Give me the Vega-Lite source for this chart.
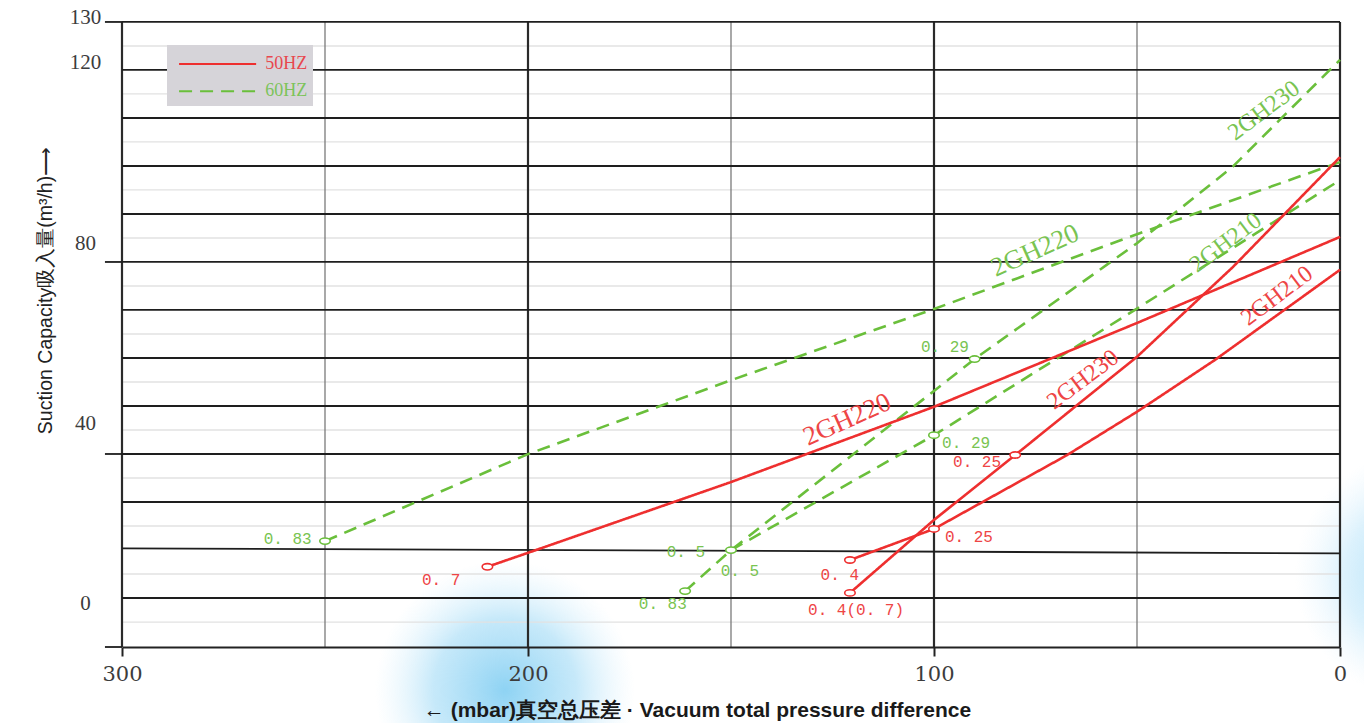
{
  "$schema": "https://vega.github.io/schema/vega-lite/v6.json",
  "width": 1218,
  "height": 630,
  "autosize": {"type": "none"},
  "padding": {"left": 122, "top": 17, "right": 24, "bottom": 76},
  "background": "#ffffff",
  "config": {"view": {"stroke": null}},
  "datasets": {
    "curves": [
      {"model": "2GH220", "freq": "60HZ", "x": 250, "y": 13.9},
      {"model": "2GH220", "freq": "60HZ", "x": 200, "y": 33.2},
      {"model": "2GH220", "freq": "60HZ", "x": 150, "y": 49.6},
      {"model": "2GH220", "freq": "60HZ", "x": 100, "y": 65.4},
      {"model": "2GH220", "freq": "60HZ", "x": 50, "y": 82.0},
      {"model": "2GH220", "freq": "60HZ", "x": 0, "y": 98.0},
      {"model": "2GH230", "freq": "60HZ", "x": 161.3, "y": 2.8},
      {"model": "2GH230", "freq": "60HZ", "x": 150, "y": 11.9},
      {"model": "2GH230", "freq": "60HZ", "x": 90, "y": 54.3},
      {"model": "2GH230", "freq": "60HZ", "x": 50, "y": 80.0},
      {"model": "2GH230", "freq": "60HZ", "x": 26.4, "y": 97.0},
      {"model": "2GH230", "freq": "60HZ", "x": 0, "y": 120.7},
      {"model": "2GH210", "freq": "60HZ", "x": 150, "y": 11.9},
      {"model": "2GH210", "freq": "60HZ", "x": 100, "y": 37.4},
      {"model": "2GH210", "freq": "60HZ", "x": 50, "y": 65.5},
      {"model": "2GH210", "freq": "60HZ", "x": 0, "y": 94.0},
      {"model": "2GH220", "freq": "50HZ", "x": 210, "y": 8.2},
      {"model": "2GH220", "freq": "50HZ", "x": 200, "y": 11.3},
      {"model": "2GH220", "freq": "50HZ", "x": 150, "y": 27.0},
      {"model": "2GH220", "freq": "50HZ", "x": 100, "y": 43.7},
      {"model": "2GH220", "freq": "50HZ", "x": 50, "y": 62.3},
      {"model": "2GH220", "freq": "50HZ", "x": 0, "y": 81.4},
      {"model": "2GH230", "freq": "50HZ", "x": 120.7, "y": 2.4},
      {"model": "2GH230", "freq": "50HZ", "x": 100, "y": 18.6},
      {"model": "2GH230", "freq": "50HZ", "x": 80, "y": 33.0},
      {"model": "2GH230", "freq": "50HZ", "x": 50, "y": 54.8},
      {"model": "2GH230", "freq": "50HZ", "x": 26.4, "y": 74.7},
      {"model": "2GH230", "freq": "50HZ", "x": 0, "y": 99.1},
      {"model": "2GH210", "freq": "50HZ", "x": 120.7, "y": 9.7},
      {"model": "2GH210", "freq": "50HZ", "x": 100, "y": 16.6},
      {"model": "2GH210", "freq": "50HZ", "x": 67.2, "y": 33.0},
      {"model": "2GH210", "freq": "50HZ", "x": 50, "y": 42.6},
      {"model": "2GH210", "freq": "50HZ", "x": 30.8, "y": 54.1},
      {"model": "2GH210", "freq": "50HZ", "x": 0, "y": 74.1}
    ],
    "markers": [
      {"freq": "60HZ", "x": 250, "y": 13.9},
      {"freq": "60HZ", "x": 161.3, "y": 2.8},
      {"freq": "60HZ", "x": 150, "y": 11.9},
      {"freq": "60HZ", "x": 90, "y": 54.3},
      {"freq": "60HZ", "x": 100, "y": 37.4},
      {"freq": "50HZ", "x": 210, "y": 8.2},
      {"freq": "50HZ", "x": 120.7, "y": 2.4},
      {"freq": "50HZ", "x": 120.7, "y": 9.7},
      {"freq": "50HZ", "x": 100, "y": 16.6},
      {"freq": "50HZ", "x": 80, "y": 33.0}
    ],
    "pointLabels": [
      {"freq": "60HZ", "text": "0. 83", "x": 259.2, "y": 14.4},
      {"freq": "60HZ", "text": "0. 83", "x": 166.8, "y": -0.1},
      {"freq": "60HZ", "text": "0. 5", "x": 161.1, "y": 11.5},
      {"freq": "60HZ", "text": "0. 5", "x": 147.8, "y": 7.3},
      {"freq": "60HZ", "text": "0. 29", "x": 97.3, "y": 57.0},
      {"freq": "60HZ", "text": "0. 29", "x": 92.1, "y": 35.7},
      {"freq": "50HZ", "text": "0. 7", "x": 221.4, "y": 5.3},
      {"freq": "50HZ", "text": "0. 4", "x": 123.2, "y": 6.4},
      {"freq": "50HZ", "text": "0. 4(0. 7)", "x": 119.2, "y": -1.4},
      {"freq": "50HZ", "text": "0. 25", "x": 91.4, "y": 14.8},
      {"freq": "50HZ", "text": "0. 25", "x": 89.4, "y": 31.5}
    ],
    "modelLabels": [
      {"freq": "50HZ", "model": "2GH220", "x": 121.4, "y": 40.8},
      {"freq": "50HZ", "model": "2GH230", "x": 63.3, "y": 49.7},
      {"freq": "50HZ", "model": "2GH210", "x": 15.5, "y": 68.3},
      {"freq": "60HZ", "model": "2GH220", "x": 75.1, "y": 78.3},
      {"freq": "60HZ", "model": "2GH210", "x": 28.1, "y": 80.1},
      {"freq": "60HZ", "model": "2GH230", "x": 18.7, "y": 109.4}
    ],
    "hMajor": [
      {"y": 129.1, "yEnd": 129.1},
      {"y": 118.45, "yEnd": 118.45},
      {"y": 107.79, "yEnd": 107.79},
      {"y": 97.14, "yEnd": 97.14},
      {"y": 86.49, "yEnd": 86.49},
      {"y": 75.84, "yEnd": 75.84},
      {"y": 65.19, "yEnd": 65.19},
      {"y": 54.53, "yEnd": 54.53},
      {"y": 43.88, "yEnd": 43.88},
      {"y": 33.23, "yEnd": 33.23},
      {"y": 22.58, "yEnd": 22.58},
      {"y": 12.29, "yEnd": 11.19},
      {"y": 1.27, "yEnd": 1.27}
    ],
    "hMinor": [
      {"y": 123.77}, {"y": 113.12}, {"y": 102.47}, {"y": 91.82}, {"y": 81.16},
      {"y": 70.51}, {"y": 59.86}, {"y": 49.21}, {"y": 38.55}, {"y": 27.9},
      {"y": 17.25}, {"y": 6.6}, {"y": -4.06}
    ],
    "vMajor": [{"x": 300}, {"x": 200}, {"x": 100}, {"x": 0}],
    "vMinor": [{"x": 250}, {"x": 150}, {"x": 50}],
    "yTicks": [{"y": 129.1}, {"y": 75.84}, {"y": 33.23}, {"y": -9.6}]
  },
  "layer": [
    {
      "data": {"values": [{}]},
      "mark": {"type": "point", "shape": "circle", "size": 67600, "filled": true, "opacity": 1, "strokeWidth": 0,
        "fill": {"gradient": "radial", "stops": [
          {"offset": 0, "color": "rgba(130,206,242,0.9)"},
          {"offset": 0.55, "color": "rgba(160,218,246,0.6)"},
          {"offset": 1, "color": "rgba(210,238,252,0)"}]}},
      "encoding": {
        "x": {"datum": 205.7, "type": "quantitative", "scale": {"domain": [0, 300], "reverse": true, "nice": false, "zero": false}},
        "y": {"datum": -19.2, "type": "quantitative", "scale": {"domain": [-9.6, 130.2], "nice": false, "zero": false}}
      }
    },
    {
      "data": {"values": [{}]},
      "mark": {"type": "point", "shape": "circle", "size": 62500, "filled": true, "opacity": 1, "strokeWidth": 0,
        "fill": {"gradient": "radial", "stops": [
          {"offset": 0, "color": "rgba(150,214,245,0.9)"},
          {"offset": 0.6, "color": "rgba(185,228,250,0.5)"},
          {"offset": 1, "color": "rgba(220,240,252,0)"}]}},
      "encoding": {
        "x": {"datum": -19.7, "type": "quantitative", "scale": {"domain": [0, 300], "reverse": true, "nice": false, "zero": false}},
        "y": {"datum": 6.4, "type": "quantitative", "scale": {"domain": [-9.6, 130.2], "nice": false, "zero": false}}
      }
    },
    {
      "data": {"name": "hMinor"},
      "mark": {"type": "rule", "color": "#e2e2e2", "strokeWidth": 1.3},
      "encoding": {
        "y": {"field": "y", "type": "quantitative", "scale": {"domain": [-9.6, 130.2], "nice": false, "zero": false}}
      }
    },
    {
      "data": {"name": "vMinor"},
      "mark": {"type": "rule", "color": "#7a7a7a", "strokeWidth": 1.3},
      "encoding": {
        "x": {"field": "x", "type": "quantitative", "scale": {"domain": [0, 300], "reverse": true, "nice": false, "zero": false}},
        "y": {"datum": 129.1, "type": "quantitative", "scale": {"domain": [-9.6, 130.2], "nice": false, "zero": false}},
        "y2": {"datum": -9.6}
      }
    },
    {
      "data": {"name": "vMajor"},
      "mark": {"type": "rule", "color": "#2a2a2a", "strokeWidth": 2.2},
      "encoding": {
        "x": {"field": "x", "type": "quantitative", "scale": {"domain": [0, 300], "reverse": true, "nice": false, "zero": false}},
        "y": {"datum": 129.1, "type": "quantitative", "scale": {"domain": [-9.6, 130.2], "nice": false, "zero": false}},
        "y2": {"datum": -9.6}
      }
    },
    {
      "data": {"name": "hMajor"},
      "mark": {"type": "rule", "color": "#1e1e1e", "strokeWidth": 1.8},
      "encoding": {
        "x": {"datum": 300, "type": "quantitative", "scale": {"domain": [0, 300], "reverse": true, "nice": false, "zero": false}},
        "x2": {"datum": 0},
        "y": {"field": "y", "type": "quantitative", "scale": {"domain": [-9.6, 130.2], "nice": false, "zero": false}},
        "y2": {"field": "yEnd"}
      }
    },
    {
      "data": {"name": "yTicks"},
      "mark": {"type": "rule", "color": "#1e1e1e", "strokeWidth": 1.8},
      "encoding": {
        "x": {"datum": 304.2, "type": "quantitative", "scale": {"domain": [0, 300], "reverse": true, "nice": false, "zero": false}},
        "x2": {"datum": 300},
        "y": {"field": "y", "type": "quantitative", "scale": {"domain": [-9.6, 130.2], "nice": false, "zero": false}}
      }
    },
    {
      "data": {"name": "curves"},
      "mark": {"type": "line", "strokeWidth": 2.6},
      "encoding": {
        "x": {"field": "x", "type": "quantitative", "scale": {"domain": [0, 300], "reverse": true, "nice": false, "zero": false},
          "axis": {"title": "← (mbar)真空总压差 · Vacuum total pressure difference", "values": [300, 200, 100, 0], "grid": false, "zindex": 1,
            "domain": true, "domainColor": "#222222", "domainWidth": 2, "ticks": true, "tickSize": 9, "tickWidth": 2, "tickColor": "#222222",
            "labelFont": "DejaVu Serif", "labelFontSize": 21, "labelColor": "#3c3c3c", "labelPadding": 7, "labelFlush": false, "labelOverlap": false,
            "titleFont": "Liberation Sans", "titleFontSize": 21, "titleFontWeight": "bold", "titleColor": "#1a1a1a",
            "titleX": 575, "titleY": 63, "titleAlign": "center", "titleBaseline": "middle"}},
        "y": {"field": "y", "type": "quantitative", "scale": {"domain": [-9.6, 130.2], "nice": false, "zero": false},
          "axis": {"title": "Suction Capacity吸入量(m³/h)⟶", "values": [0, 40, 80, 120, 130], "grid": false, "zindex": 1,
            "domain": false, "ticks": false, "tickSize": 0,
            "labelFont": "Liberation Serif", "labelFontSize": 21, "labelColor": "#3c3c3c", "labelPadding": 37, "labelAlign": "center", "labelBaseline": "middle",
            "labelFlush": false, "labelOverlap": false,
            "titleFont": "Liberation Sans", "titleFontSize": 19.5, "titleFontWeight": "normal", "titleColor": "#222222",
            "titleAngle": -90, "titleX": -77, "titleY": 273, "titleAlign": "center", "titleBaseline": "middle"}},
        "detail": [{"field": "model"}, {"field": "freq"}],
        "color": {"field": "freq", "type": "nominal", "scale": {"domain": ["50HZ", "60HZ"], "range": ["#ee2f2f", "#6abf3b"]},
          "legend": {"title": null, "orient": "none", "legendX": 45, "legendY": 28, "fillColor": "#d6d4d9", "padding": 5,
            "symbolType": "M-3,0H3", "symbolSize": 660, "symbolStrokeWidth": 2, "symbolOffset": 31.6,
            "labelFont": "Liberation Serif", "labelFontSize": 18, "labelOffset": 33.6, "rowPadding": 4.3,
            "encode": {"labels": {"update": {
              "text": {"signal": "datum.label + '\u00a0\u00a0\u00a0\u00a0'"},
              "fill": {"signal": "datum.label == '50HZ' ? '#e8474e' : '#7cc35a'"}}}}}},
        "strokeDash": {"field": "freq", "type": "nominal", "scale": {"domain": ["50HZ", "60HZ"], "range": [[1, 0], [13, 8]]},
          "legend": {"title": null, "orient": "none", "legendX": 45, "legendY": 28, "fillColor": "#d6d4d9", "padding": 5,
            "symbolType": "M-3,0H3", "symbolSize": 660, "symbolStrokeWidth": 2, "symbolOffset": 31.6,
            "labelFont": "Liberation Serif", "labelFontSize": 18, "labelOffset": 33.6, "rowPadding": 4.3,
            "encode": {"labels": {"update": {
              "text": {"signal": "datum.label + '\u00a0\u00a0\u00a0\u00a0'"},
              "fill": {"signal": "datum.label == '50HZ' ? '#e8474e' : '#7cc35a'"}}}}}}
      }
    },
    {
      "data": {"name": "markers"},
      "mark": {"type": "point", "shape": "M-1,0A1,0.6,0,1,1,1,0A1,0.6,0,1,1,-1,0Z", "size": 110, "fill": "#ffffff", "strokeWidth": 1.6, "opacity": 1},
      "encoding": {
        "x": {"field": "x", "type": "quantitative", "scale": {"domain": [0, 300], "reverse": true, "nice": false, "zero": false}},
        "y": {"field": "y", "type": "quantitative", "scale": {"domain": [-9.6, 130.2], "nice": false, "zero": false}},
        "stroke": {"field": "freq", "type": "nominal", "scale": {"domain": ["50HZ", "60HZ"], "range": ["#ee2f2f", "#6abf3b"]}, "legend": null}
      }
    },
    {
      "data": {"name": "pointLabels"},
      "mark": {"type": "text", "font": "Liberation Mono", "fontSize": 16, "align": "center", "baseline": "middle"},
      "encoding": {
        "x": {"field": "x", "type": "quantitative", "scale": {"domain": [0, 300], "reverse": true, "nice": false, "zero": false}},
        "y": {"field": "y", "type": "quantitative", "scale": {"domain": [-9.6, 130.2], "nice": false, "zero": false}},
        "text": {"field": "text"},
        "fill": {"field": "freq", "type": "nominal", "scale": {"domain": ["50HZ", "60HZ"], "range": ["#ee4545", "#79c451"]}, "legend": null}
      }
    },
    {
      "data": {"name": "modelLabels"},
      "transform": [{"filter": "datum.model == '2GH220'"}],
      "mark": {"type": "text", "font": "Liberation Serif", "fontSize": 27, "align": "center", "baseline": "middle", "angle": -24},
      "encoding": {
        "x": {"field": "x", "type": "quantitative", "scale": {"domain": [0, 300], "reverse": true, "nice": false, "zero": false}},
        "y": {"field": "y", "type": "quantitative", "scale": {"domain": [-9.6, 130.2], "nice": false, "zero": false}},
        "text": {"field": "model"},
        "fill": {"field": "freq", "type": "nominal", "scale": {"domain": ["50HZ", "60HZ"], "range": ["#ee4545", "#79c451"]}, "legend": null}
      }
    },
    {
      "data": {"name": "modelLabels"},
      "transform": [{"filter": "datum.model != '2GH220'"}],
      "mark": {"type": "text", "font": "Liberation Serif", "fontSize": 24, "align": "center", "baseline": "middle", "angle": -37},
      "encoding": {
        "x": {"field": "x", "type": "quantitative", "scale": {"domain": [0, 300], "reverse": true, "nice": false, "zero": false}},
        "y": {"field": "y", "type": "quantitative", "scale": {"domain": [-9.6, 130.2], "nice": false, "zero": false}},
        "text": {"field": "model"},
        "fill": {"field": "freq", "type": "nominal", "scale": {"domain": ["50HZ", "60HZ"], "range": ["#ee4545", "#79c451"]}, "legend": null}
      }
    }
  ]
}
